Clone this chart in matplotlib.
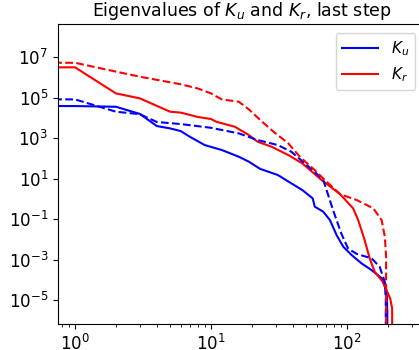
import matplotlib
matplotlib.use("Agg")
import matplotlib.pyplot as plt

# eigenvalue ranks / values (0 = largest, drawn clipped to the left edge)
ku_rank = [0, 1, 2, 3, 4, 5, 6, 7, 9, 12, 16, 19, 23, 31, 39, 47, 56, 58, 67, 75, 84, 94,
           108, 128, 152, 180, 196, 198, 200]
ku_val = [3.8e4, 3.8e4, 3.5e4, 1.55e4, 3.9e3, 3.0e3, 2.2e3, 1.15e3, 450, 257, 120, 68, 30, 15,
          5.8, 2.7, 1.05, 0.41, 0.23, 0.089, 0.016, 4.3e-3, 1.7e-3, 6.5e-4, 3.0e-4, 1.2e-4,
          2.6e-5, 3e-6, 1e-15]

kr_rank = [0, 1, 2, 3, 5, 6, 8, 10, 11, 15, 19, 22, 28, 37, 47, 65, 89, 111, 121, 135, 147,
           160, 184, 208, 215, 216]
kr_val = [3.1e6, 3.1e6, 1.6e5, 9.1e4, 2.0e4, 1.8e4, 1.1e4, 8.7e3, 6.3e3, 3.6e3, 1.4e3, 660,
          370, 145, 56, 8.5, 1.7, 0.34, 0.089, 9.1e-3, 1.15e-3, 2.5e-4, 7.9e-5, 1.2e-5,
          3.9e-6, 1e-15]

ku0_rank = [0, 1, 2, 3, 4, 6, 10, 16, 22, 31, 39, 46, 56, 67, 79, 91, 102, 118, 152, 174,
            190, 193, 194]
ku0_val = [8.1e4, 8.1e4, 2.0e4, 1.5e4, 6.2e3, 4.9e3, 3.2e3, 1.7e3, 800, 450, 210, 81, 26,
           8.5, 0.28, 0.019, 3.5e-3, 1.9e-3, 1.15e-3, 4.4e-4, 7.9e-5, 1e-5, 1e-15]

kr0_rank = [0, 1, 2, 3, 6, 8, 10, 12, 16, 19, 23, 29, 37, 45, 58, 67, 89, 118, 156, 180,
            190, 194, 195]
kr0_val = [5.2e6, 5.2e6, 1.9e6, 1.07e6, 4.5e5, 2.8e5, 1.6e5, 8.1e4, 6.2e4, 2.6e4, 7.8e3,
           2.0e3, 550, 120, 26, 10, 1.7, 0.87, 0.34, 0.089, 0.013, 1.4e-3, 1e-15]

plt.rcParams["font.size"] = 12

fig = plt.figure(figsize=(4.19, 3.5), dpi=100)
ax = fig.add_axes([58 / 419, 26 / 350, (425 - 58) / 419, (324 - 24) / 350])

ax.loglog(ku_rank, ku_val, "b-", lw=1.5, label="$K_u$")
ax.loglog(kr_rank, kr_val, "r-", lw=1.5, label="$K_r$")
ax.loglog(ku0_rank, ku0_val, "b--", lw=1.5)
ax.loglog(kr0_rank, kr0_val, "r--", lw=1.5)

ax.set_xlim(0.75, 375)
ax.set_ylim(10 ** -6.18, 10 ** 8.63)
ax.set_title("Eigenvalues of $K_u$ and $K_r$, last step", fontsize=12.5)
ax.legend(loc="upper right", bbox_to_anchor=(415 / 419, (350 - 33) / 350),
          bbox_transform=fig.transFigure, borderaxespad=0, fontsize=11, handlelength=2.4)

fig.savefig("out.png", dpi=100)
